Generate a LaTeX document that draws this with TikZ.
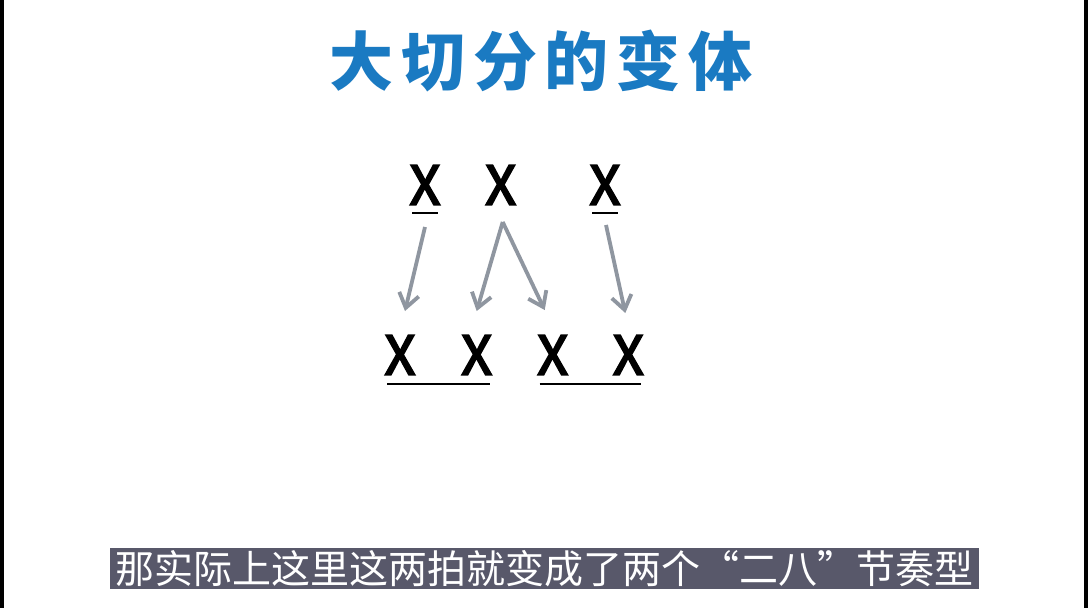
\documentclass[tikz,border=0pt]{standalone}
\usepackage{fontspec}
\newfontfamily\cjk{Noto Sans CJK SC}
\usetikzlibrary{arrows.meta, positioning}

\definecolor{titleblue}{RGB}{26,122,194}
\definecolor{arrowgray}{RGB}{143,150,160}
\definecolor{subbar}{RGB}{88,88,106}

\begin{document}
\begin{tikzpicture}[x=1bp, y=-1bp,
    title/.style={font=\cjk\bfseries\fontsize{64bp}{64bp}\selectfont\addfontfeature{LetterSpace=12}, text=titleblue, inner sep=0pt},
    note/.style={font=\cjk\fontsize{54bp}{54bp}\selectfont\addfontfeature{FakeBold=3.5}, inner sep=0pt},
    beam/.style={line width=2.7bp, black},
    arrow/.style={line width=3.8bp, arrowgray, -{Straight Barb[length=14bp, width=20bp]}},
    subtitle/.style={fill=subbar, text=white, minimum width=869bp, minimum height=41bp, inner sep=0pt, font=\cjk\fontsize{39bp}{39bp}\selectfont}
    ]

    % Frame
    \fill[white] (0,0) rectangle (1088,608);
    \fill[black] (0,0) rectangle (4,608);
    \fill[black] (1084,0) rectangle (1088,608);

    % Title
    \node (head) [title] at (541,61) {大切分的变体};

    % Top row
    \node (t1) [note] at (425,185) {X};
    \node (t2) [note] at (500.7,185) {X};
    \node (t3) [note] at (605,185) {X};

    % Bottom row
    \node (b1) [note] at (400,355) {X};
    \node (b2) [note] at (476.7,355) {X};
    \node (b3) [note] at (552.7,355) {X};
    \node (b4) [note] at (628.3,355) {X};

    % Underlines
    \draw [beam] ([xshift=-13bp, yshift=-8bp]t1.south) -- ([xshift=13bp, yshift=-8bp]t1.south);
    \draw [beam] ([xshift=-13bp, yshift=-8bp]t3.south) -- ([xshift=13bp, yshift=-8bp]t3.south);
    \draw [beam] ([xshift=-13bp, yshift=-9bp]b1.south) -- ([xshift=13bp, yshift=-9bp]b2.south);
    \draw [beam] ([xshift=-13bp, yshift=-9bp]b3.south) -- ([xshift=13bp, yshift=-9bp]b4.south);

    % Arrows
    \draw [arrow] ([yshift=-22bp]t1.south) -- ([xshift=5bp, yshift=24bp]b1.north);
    \draw [arrow] ([xshift=2bp, yshift=-17bp]t2.south) -- ([yshift=24bp]b2.north);
    \draw [arrow] ([xshift=2bp, yshift=-17bp]t2.south) -- ([xshift=-8bp, yshift=25bp]b3.north);
    \draw [arrow] ([xshift=1bp, yshift=-20bp]t3.south) -- ([xshift=-3bp, yshift=22bp]b4.north);

    % Subtitle
    \node (caption) [subtitle] at (544.5,568.5) {那实际上这里这两拍就变成了两个“二八”节奏型};

\end{tikzpicture}
\end{document}
